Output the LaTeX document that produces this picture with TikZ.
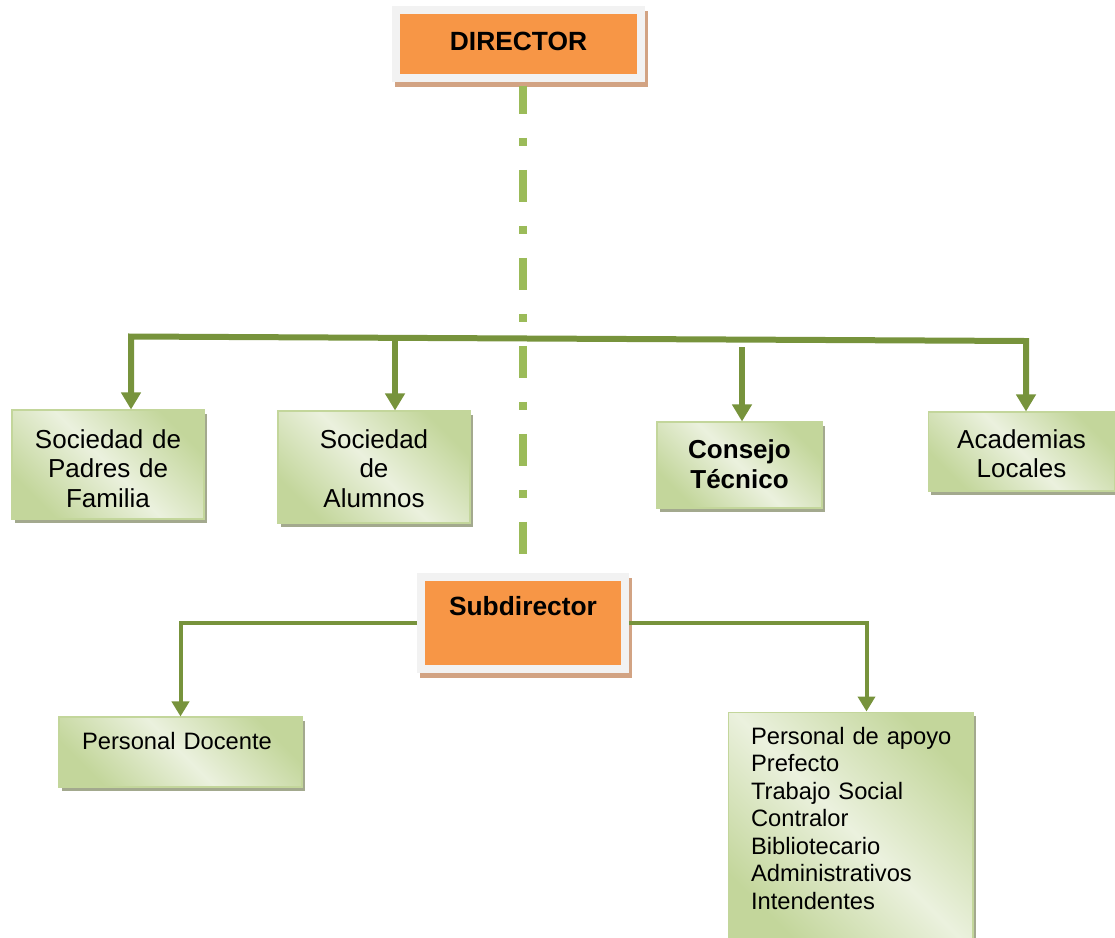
\documentclass[tikz,border=0pt]{standalone}
\usepackage{fontspec}
\setmainfont{Liberation Sans}
\usepackage{xcolor}
\definecolor{naranja}{HTML}{F79646}
\definecolor{marco}{HTML}{F2F2F2}
\definecolor{sombracafe}{HTML}{D2A383}
\definecolor{verdeoscuro}{HTML}{C3D69B}
\definecolor{verdeclaro}{HTML}{EBF1DE}
\definecolor{sombraverde}{HTML}{A3A98E}
\definecolor{olivo}{HTML}{77933C}
\definecolor{verdepunto}{HTML}{9BBB59}
\usepackage{tikz}
\usetikzlibrary{arrows.meta, calc, shadows}

\tikzset{
  cargo/.style={draw=marco, fill=naranja, line width=0.16cm, inner sep=0pt,
    font=\bfseries\fontsize{15}{17}\selectfont,
    drop shadow={shadow xshift=0.06cm, shadow yshift=-0.1cm,
      fill=sombracafe, draw=sombracafe, line width=0.16cm, opacity=1}},
  comite/.style={draw=verdeoscuro, line width=0.6pt,
    left color=verdeoscuro, right color=verdeoscuro, middle color=verdeclaro,
    shading angle=135, inner sep=0pt, align=center,
    font=\fontsize{14.8}{17}\selectfont,
    drop shadow={shadow xshift=0.06cm, shadow yshift=-0.08cm,
      fill=sombraverde, opacity=1}},
  lista/.style={comite, align=left, inner xsep=0.46cm, inner ysep=0pt,
    font=\fontsize{13.5}{15.7}\selectfont},
  tronco/.style={draw=olivo, line width=0.12cm, line join=miter,
    -{Triangle[width=0.38cm, length=0.34cm]}},
  rama/.style={draw=olivo, line width=0.08cm,
    -{Triangle[width=0.34cm, length=0.3cm]}},
  enlace/.style={draw=verdepunto, line width=0.16cm, shorten <=0.08cm,
    dash pattern=on 0.64cm off 0.48cm on 0.16cm off 0.48cm, dash phase=0.08cm}
}

\begin{document}
\begin{tikzpicture}[x=0.02cm, y=-0.02cm]
  \useasboundingbox (0,0) rectangle (1115,937);

  % cargos
  \node[cargo, minimum width=4.9cm, text height=0.8cm, text depth=0.56cm]
    (dir) at (518.5,44) {DIRECTOR};
  \node[cargo, minimum width=4.08cm, text height=0.76cm, text depth=1.08cm]
    (sub) at (523,623) {Subdirector};

  % organos de apoyo
  \node[comite, text width=3.84cm, text height=0.76cm, text depth=1.42cm]
    (spf) at (108,464.5) {Sociedad de\\Padres de\\Familia};
  \node[comite, text width=3.84cm, text height=0.74cm, text depth=1.5cm]
    (al) at (374,467) {Sociedad\\de\\Alumnos};
  \node[comite, text width=3.3cm, text height=0.72cm, text depth=1.0cm,
    font=\bfseries\fontsize{14.8}{17.5}\selectfont]
    (ct) at (739.5,465) {Consejo\\Técnico};
  \node[comite, text width=3.74cm, text height=0.72cm, text depth=0.86cm]
    (acl) at (1021.5,451.5) {Academias\\Locales};

  % personal
  \node[lista, text width=3.94cm, text height=0.64cm, text depth=0.76cm]
    (pd) at (180.5,752) {Personal Docente};
  \node[lista, text width=3.98cm, text height=0.64cm, text depth=4.02cm]
    (pa) at (850.5,828.5) {\mbox{Personal de apoyo}\\Prefecto\\Trabajo Social\\Contralor\\Bibliotecario\\Administrativos\\Intendentes};

  % conectores
  \draw[enlace] (sub.north |- dir.south) -- (sub.north);

  \coordinate (barL) at (131,336.5);
  \coordinate (barR) at (1026,341);
  \coordinate (baral) at ($(barL)!0.295!(barR)$);
  \coordinate (barct) at (742,347);
  \draw[tronco, {Triangle[width=0.38cm, length=0.34cm]}-{Triangle[width=0.38cm, length=0.34cm]}]
    (barL |- spf.north) -- (barL) -- (barR) -- (barR |- acl.north);
  \draw[tronco] (baral) -- (baral |- al.north);
  \draw[tronco] (barct) -- (barct |- ct.north);

  \draw[rama] (sub.west) -| (pd.north);
  \draw[rama] (sub.east) -| ($(pa.north)+(16,0)$);
\end{tikzpicture}
\end{document}
